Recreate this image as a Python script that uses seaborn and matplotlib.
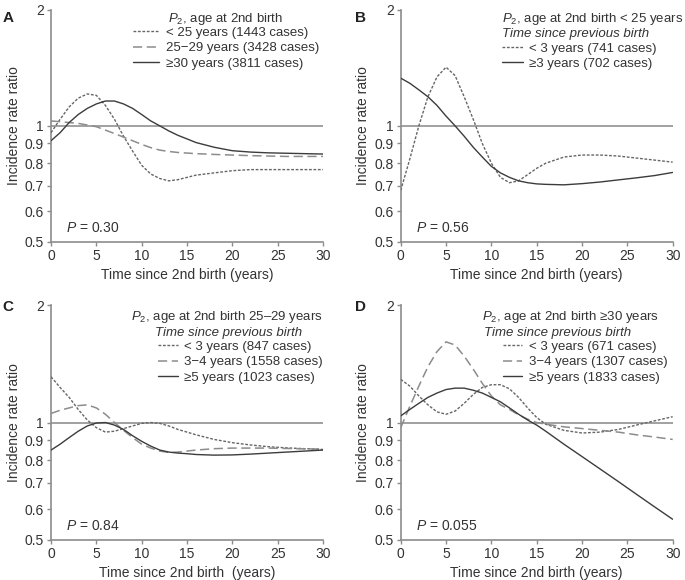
import numpy as np
import pandas as pd
import seaborn as sns
import matplotlib.pyplot as plt
from matplotlib.ticker import NullLocator

sns.set_style("ticks")
plt.rcParams["font.family"] = ["Liberation Sans", "DejaVu Sans"]
plt.rcParams["mathtext.fontset"] = "custom"
plt.rcParams["mathtext.it"] = "Liberation Sans:italic"
plt.rcParams["mathtext.rm"] = "Liberation Sans"

# %% data
years = [0, 1, 2, 3, 4, 5, 6, 7, 8, 9, 10, 11, 12, 13, 14, 15, 16,
         18, 20, 22, 24, 26, 28, 30]

# panel A: age at 2nd birth
a_lt25 = [0.96, 1.04, 1.12, 1.18, 1.21, 1.20, 1.13, 1.04, 0.94, 0.86, 0.79, 0.75,
          0.73, 0.72, 0.725, 0.735, 0.745, 0.755, 0.765, 0.77, 0.77, 0.77, 0.77, 0.77]
a_25_29 = [1.03, 1.025, 1.02, 1.015, 1.005, 0.995, 0.975, 0.955, 0.935, 0.915, 0.895,
           0.878, 0.865, 0.858, 0.853, 0.85, 0.847, 0.843, 0.84, 0.837, 0.835, 0.833,
           0.833, 0.833]
a_ge30 = [0.915, 0.96, 1.02, 1.07, 1.11, 1.14, 1.16, 1.16, 1.14, 1.11, 1.07, 1.03,
          1.0, 0.97, 0.945, 0.925, 0.905, 0.88, 0.862, 0.855, 0.851, 0.849, 0.847, 0.845]

# panel B: age < 25, time since previous birth
b_lt3 = [0.68, 0.82, 1.0, 1.19, 1.34, 1.42, 1.35, 1.19, 1.04, 0.90, 0.80, 0.735,
         0.712, 0.72, 0.747, 0.776, 0.80, 0.83, 0.84, 0.84, 0.835, 0.825, 0.815, 0.805]
b_ge3 = [1.33, 1.29, 1.24, 1.19, 1.13, 1.06, 1.0, 0.94, 0.88, 0.83, 0.785, 0.755,
         0.735, 0.72, 0.712, 0.707, 0.705, 0.703, 0.708, 0.715, 0.724, 0.733, 0.743,
         0.757]

# panel C: age 25-29
c_lt3 = [1.31, 1.23, 1.16, 1.08, 1.015, 0.97, 0.945, 0.95, 0.965, 0.98, 0.995, 1.0,
         0.995, 0.98, 0.96, 0.945, 0.93, 0.905, 0.888, 0.876, 0.867, 0.861, 0.857,
         0.853]
c_3_4 = [1.055, 1.075, 1.09, 1.105, 1.11, 1.09, 1.05, 1.0, 0.955, 0.915, 0.88, 0.86,
         0.845, 0.838, 0.84, 0.845, 0.85, 0.857, 0.86, 0.86, 0.86, 0.858, 0.856, 0.855]
c_ge5 = [0.85, 0.88, 0.915, 0.95, 0.98, 0.997, 1.0, 0.985, 0.96, 0.925, 0.895, 0.87,
         0.85, 0.84, 0.835, 0.832, 0.828, 0.825, 0.826, 0.83, 0.835, 0.84, 0.845, 0.85]

# panel D: age >= 30
d_lt3 = [1.29, 1.24, 1.17, 1.11, 1.065, 1.05, 1.07, 1.12, 1.18, 1.23, 1.25, 1.25,
         1.22, 1.16, 1.09, 1.03, 0.99, 0.955, 0.94, 0.945, 0.96, 0.985, 1.01, 1.035]
d_3_4 = [0.97, 1.1, 1.24, 1.39, 1.52, 1.61, 1.58, 1.48, 1.37, 1.26, 1.17, 1.11, 1.08,
         1.047, 1.02, 1.0, 0.99, 0.975, 0.965, 0.955, 0.945, 0.93, 0.918, 0.905]
d_ge5 = [1.04, 1.08, 1.12, 1.16, 1.19, 1.215, 1.225, 1.225, 1.21, 1.19, 1.16, 1.13,
         1.09, 1.05, 1.015, 0.985, 0.95, 0.88, 0.818, 0.76, 0.706, 0.655, 0.608, 0.565]

ytick_vals = [0.5, 0.6, 0.7, 0.8, 0.9, 1, 2]
ytick_labels = ["0.5", "0.6", "0.7", "0.8", "0.9", "1", "2"]

# line styles
short_dash = dict(color="#666666", linestyle=(0, (2.0, 1.2)), linewidth=1.0)
long_dash = dict(color="#8c8c8c", linestyle=(0, (6, 3)), linewidth=1.1)
solid = dict(color="#3c3c3c", linestyle="-", linewidth=1.0)

FS = 9.5

panels = [
    dict(letter="A", series=[(a_lt25, "< 25 years (1443 cases)", short_dash),
                             (a_25_29, "25\u221229 years (3428 cases)", long_dash),
                             (a_ge30, "\u226530 years (3811 cases)", solid)],
         header=[("$P_2$, age at 2nd birth", 0.43, 0.962, "left")],
         leg=(0.30, 0.927, 2.0), pval="0.30",
         xlabel="Time since 2nd birth (years)"),
    dict(letter="B", series=[(b_lt3, "< 3 years (741 cases)", short_dash),
                             (b_ge3, "\u22653 years (702 cases)", solid)],
         header=[("$P_2$, age at 2nd birth < 25 years", 0.371, 0.962, "left"),
                 ("Time since previous birth", 0.371, 0.895, "left")],
         leg=(0.371, 0.86, 1.6), pval="0.56",
         xlabel="Time since 2nd birth (years)"),
    dict(letter="C", series=[(c_lt3, "< 3 years (847 cases)", short_dash),
                             (c_3_4, "3\u22124 years (1558 cases)", long_dash),
                             (c_ge5, "\u22655 years (1023 cases)", solid)],
         header=[("$P_2$, age at 2nd birth 25\u201329 years", 1.0, 0.95, "right"),
                 ("Time since previous birth", 0.923, 0.882, "right")],
         leg=(0.393, 0.848, 1.5), pval="0.84",
         xlabel="Time since 2nd birth  (years)"),
    dict(letter="D", series=[(d_lt3, "< 3 years (671 cases)", short_dash),
                             (d_3_4, "3\u22124 years (1307 cases)", long_dash),
                             (d_ge5, "\u22655 years (1833 cases)", solid)],
         header=[("$P_2$, age at 2nd birth \u226530 years", 0.30, 0.95, "left"),
                 ("Time since previous birth", 0.305, 0.882, "left")],
         leg=(0.375, 0.848, 1.5), pval="0.055",
         xlabel="Time since 2nd birth (years)"),
]

# axes rectangles in figure fractions (left, bottom, width, height)
rects = [
    (0.0745, 0.583, 0.397, 0.400),
    (0.585, 0.583, 0.397, 0.400),
    (0.0745, 0.069, 0.397, 0.405),
    (0.585, 0.069, 0.397, 0.405),
]
letter_pos = [(0.004, 0.962), (0.518, 0.962), (0.004, 0.463), (0.518, 0.463)]

fig = plt.figure(figsize=(6.85, 5.8), dpi=100)

for p, rect, lp in zip(panels, rects, letter_pos):
    ax = fig.add_axes(rect)
    ax.axhline(1, color="#9a9a9a", linewidth=1.3, zorder=1)
    handles = []
    for vals, label, style in p["series"]:
        sns.lineplot(x=years, y=vals, ax=ax, label=label, zorder=3, **style)
        handles.append(ax.get_lines()[-1])

    ax.set_yscale("log")
    ax.set_ylim(0.5, 2)
    ax.set_xlim(0, 30)
    ax.set_yticks(ytick_vals)
    ax.set_yticklabels(ytick_labels)
    ax.yaxis.set_minor_locator(NullLocator())
    ax.set_xticks([0, 5, 10, 15, 20, 25, 30])
    ax.tick_params(labelsize=10, colors="#333333", length=3, width=1, pad=2)
    ax.tick_params(color="#8c8c8c")
    for s in ["left", "bottom"]:
        ax.spines[s].set_color("#8c8c8c")
        ax.spines[s].set_linewidth(1.2)
    sns.despine(ax=ax)
    ax.set_ylabel("Incidence rate ratio", fontsize=10, color="#333333", labelpad=3)
    ax.set_xlabel(p["xlabel"], fontsize=10, color="#333333", labelpad=4)

    # header lines
    for i, (txt, hx, hy, ha) in enumerate(p["header"]):
        ax.text(hx, hy, txt, transform=ax.transAxes, ha=ha, va="center",
                fontsize=FS, color="#333333", style="italic" if i == 1 else "normal")

    lx, ly, hl = p["leg"]
    ax.legend(handles=handles, loc="upper left", bbox_to_anchor=(lx, ly),
              frameon=False, fontsize=FS, labelcolor="#333333", handlelength=hl,
              handletextpad=0.5, labelspacing=0.24, borderpad=0, borderaxespad=0)

    ax.text(0.055, 0.06, "$P$ = " + p["pval"], transform=ax.transAxes,
            ha="left", va="center", fontsize=10, color="#333333")
    fig.text(lp[0], lp[1], p["letter"], fontsize=11, fontweight="bold",
             color="#222222")

plt.savefig("out.png", dpi=100)
